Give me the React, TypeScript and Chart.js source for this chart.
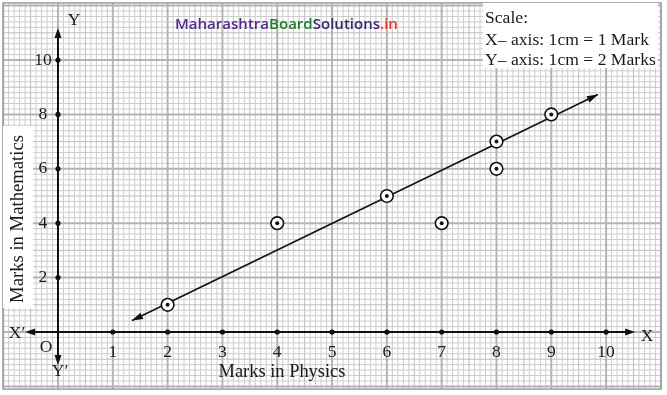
import React, { useEffect, useRef } from "react";
import { Chart, registerables } from "chart.js";

Chart.register(...registerables);

// ---- data ----
const physicsMarks = [2, 4, 6, 7, 8, 8, 9];
const mathsMarks = [1, 4, 5, 4, 7, 6, 8];
const trendX = [1.35, 9.85];
const trendY = [0.42, 8.73];
const xTickValues = [1, 2, 3, 4, 5, 6, 7, 8, 9, 10];
const yTickValues = [2, 4, 6, 8, 10];
const xRange = [-1.058, 11.111];
const yRange = [-2.316, 12.206];
const xAxisExtent = [-0.6, 10.53];
const yAxisExtent = [-1.21, 11.18];
const paperX = [-1.0, 11.0];
const paperY = [-2.1, 12.1];

const SERIF = '"Liberation Serif", "Times New Roman", serif';

function fitFont(ctx: CanvasRenderingContext2D, text: string, target: number, weight: string, family: string) {
  ctx.font = `${weight} 20px ${family}`;
  const w = ctx.measureText(text).width;
  const size = (20 * target) / w;
  return `${weight} ${size.toFixed(2)}px ${family}`;
}

function arrowHead(ctx: CanvasRenderingContext2D, tx: number, ty: number, ang: number, len: number, half: number) {
  ctx.beginPath();
  ctx.moveTo(tx, ty);
  ctx.lineTo(tx - len * Math.cos(ang) + half * Math.sin(ang), ty - len * Math.sin(ang) - half * Math.cos(ang));
  ctx.lineTo(tx - len * Math.cos(ang) - half * Math.sin(ang), ty - len * Math.sin(ang) + half * Math.cos(ang));
  ctx.closePath();
  ctx.fill();
}

const paperPlugin = {
  id: "paper",
  beforeDraw(chart: any) {
    const { ctx } = chart;
    const xs = chart.scales.x;
    const ys = chart.scales.y;
    const px = (v: number) => xs.getPixelForValue(v);
    const py = (v: number) => ys.getPixelForValue(v);
    ctx.save();
    ctx.fillStyle = "#ffffff";
    ctx.fillRect(0, 0, chart.width, chart.height);

    const left = px(paperX[0]);
    const right = px(paperX[1]);
    const top = py(paperY[1]);
    const bottom = py(paperY[0]);

    const pass = (level: number) => {
      for (let k = Math.ceil(paperX[0] * 10 - 1e-6); k <= Math.floor(paperX[1] * 10 + 1e-6); k++) {
        const lv = k % 10 === 0 ? 2 : k % 5 === 0 ? 1 : 0;
        if (lv !== level) continue;
        const x = px(k / 10);
        ctx.beginPath();
        ctx.moveTo(x, top);
        ctx.lineTo(x, bottom);
        ctx.stroke();
      }
      for (let k = Math.ceil(paperY[0] * 5 - 1e-6); k <= Math.floor(paperY[1] * 5 + 1e-6); k++) {
        const lv = k % 10 === 0 ? 2 : k % 5 === 0 ? 1 : 0;
        if (lv !== level) continue;
        const y = py(k / 5);
        ctx.beginPath();
        ctx.moveTo(left, y);
        ctx.lineTo(right, y);
        ctx.stroke();
      }
    };
    ctx.strokeStyle = "#cdcdcd";
    ctx.lineWidth = 1;
    pass(0);
    ctx.strokeStyle = "#bdbdbd";
    ctx.lineWidth = 1;
    pass(1);
    ctx.strokeStyle = "#b4b4b4";
    ctx.lineWidth = 2;
    pass(2);
    ctx.strokeStyle = "#a0a0a0";
    ctx.lineWidth = 1.5;
    ctx.strokeRect(left, top, right - left, bottom - top);

    // white boxes
    ctx.fillStyle = "#ffffff";
    ctx.fillRect(483, 3, 175, 65);
    ctx.fillRect(3, 126, 30, 182);

    // axes
    const ox = px(0);
    const oy = py(0);
    ctx.strokeStyle = "#111";
    ctx.fillStyle = "#111";
    ctx.lineWidth = 2;
    ctx.beginPath();
    ctx.moveTo(px(xAxisExtent[0]) + 4, oy);
    ctx.lineTo(px(xAxisExtent[1]) - 4, oy);
    ctx.moveTo(ox, py(yAxisExtent[1]) + 4);
    ctx.lineTo(ox, py(yAxisExtent[0]) - 4);
    ctx.stroke();
    arrowHead(ctx, px(xAxisExtent[1]), oy, 0, 10, 3.5);
    arrowHead(ctx, px(xAxisExtent[0]), oy, Math.PI, 10, 3.5);
    arrowHead(ctx, ox, py(yAxisExtent[1]), -Math.PI / 2, 10, 3.5);
    arrowHead(ctx, ox, py(yAxisExtent[0]), Math.PI / 2, 10, 3.5);

    // tick dots
    for (const v of xTickValues) {
      ctx.beginPath();
      ctx.arc(px(v), oy, 2.6, 0, Math.PI * 2);
      ctx.fill();
    }
    for (const v of yTickValues) {
      ctx.beginPath();
      ctx.arc(ox, py(v), 2.6, 0, Math.PI * 2);
      ctx.fill();
    }

    // tick labels
    ctx.fillStyle = "#1a1a1a";
    ctx.font = `17.5px ${SERIF}`;
    ctx.textAlign = "center";
    ctx.textBaseline = "middle";
    for (const v of xTickValues) {
      ctx.fillText(String(v), px(v), oy + 20);
    }
    for (const v of yTickValues) {
      ctx.fillText(String(v), ox - 15, py(v));
    }
    ctx.fillText("O", ox - 12, oy + 15);
    ctx.fillText("X\u2032", 17, oy + 1);
    ctx.fillText("X", 647, oy + 4);
    ctx.fillText("Y", 74, 20);
    ctx.fillText("Y\u2032", ox + 2, oy + 39);

    // axis titles
    ctx.font = fitFont(ctx, "Marks in Physics", 127, "", SERIF);
    ctx.fillText("Marks in Physics", 282, oy + 40);

    ctx.save();
    ctx.translate(18, 219);
    ctx.rotate(-Math.PI / 2);
    ctx.font = fitFont(ctx, "Marks in Mathematics", 168, "", SERIF);
    ctx.fillText("Marks in Mathematics", 0, 0);
    ctx.restore();

    // scale box text
    ctx.textAlign = "left";
    ctx.textBaseline = "alphabetic";
    const scaleFont = fitFont(ctx, "Y\u2013 axis: 1cm = 2 Marks", 171, "", SERIF);
    ctx.font = scaleFont;
    ctx.fillText("Scale:", 485, 23);
    ctx.fillText("X\u2013 axis: 1cm = 1 Mark", 485, 45);
    ctx.fillText("Y\u2013 axis: 1cm = 2 Marks", 485, 65);

    // watermark
    const parts: [string, string][] = [
      ["Maharashtra", "#55288f"],
      ["Board", "#1f7d2c"],
      ["Solutions", "#3a2768"],
      [".in", "#e0342a"],
    ];
    const full = parts.map((p) => p[0]).join("");
    ctx.font = fitFont(ctx, full, 223, "600", '"Open Sans", "Noto Sans", sans-serif');
    let cx = 175;
    for (const [t, c] of parts) {
      ctx.fillStyle = c;
      ctx.fillText(t, cx, 29);
      cx += ctx.measureText(t).width;
    }
    ctx.restore();
  },
  afterDatasetsDraw(chart: any) {
    const { ctx } = chart;
    const meta = chart.getDatasetMeta(0);
    const a = meta.data[0];
    const b = meta.data[1];
    if (!a || !b) return;
    const ang = Math.atan2(b.y - a.y, b.x - a.x);
    ctx.save();
    ctx.fillStyle = "#111";
    arrowHead(ctx, b.x, b.y, ang, 11, 3.5);
    arrowHead(ctx, a.x, a.y, ang + Math.PI, 11, 3.5);
    ctx.restore();
  },
};

export default function App() {
  const ref = useRef<HTMLCanvasElement | null>(null);
  useEffect(() => {
    document.body.style.margin = "0";
    const canvas = ref.current;
    if (!canvas) return;
    const points = physicsMarks.map((x, i) => ({ x, y: mathsMarks[i] }));
    const trend = trendX.map((x, i) => ({ x, y: trendY[i] }));
    const chart = new Chart(canvas, {
      type: "scatter",
      data: {
        datasets: [
          {
            label: "trend",
            data: trend,
            showLine: true,
            borderColor: "#111",
            borderWidth: 1.6,
            pointRadius: 0,
            order: 3,
          } as any,
          {
            label: "marks",
            data: points,
            pointRadius: 6.3,
            pointBorderWidth: 1.6,
            borderColor: "#111",
            backgroundColor: "#ffffff",
            pointBackgroundColor: "#ffffff",
            pointBorderColor: "#111",
            order: 2,
          } as any,
          {
            label: "centres",
            data: points,
            pointRadius: 2,
            pointBorderWidth: 0,
            backgroundColor: "#111",
            pointBackgroundColor: "#111",
            order: 1,
          } as any,
        ],
      },
      options: {
        animation: false,
        responsive: false,
        devicePixelRatio: 1,
        layout: { padding: 0, autoPadding: false },
        plugins: { legend: { display: false }, tooltip: { enabled: false }, title: { display: false } },
        events: [],
        scales: {
          x: { type: "linear", min: xRange[0], max: xRange[1], display: false },
          y: { type: "linear", min: yRange[0], max: yRange[1], display: false },
        },
      },
      plugins: [paperPlugin],
    });
    return () => chart.destroy();
  }, []);
  return (
    <div style={{ width: 667, height: 395 }}>
      <canvas ref={ref} width={667} height={395} style={{ display: "block" }} />
    </div>
  );
}
